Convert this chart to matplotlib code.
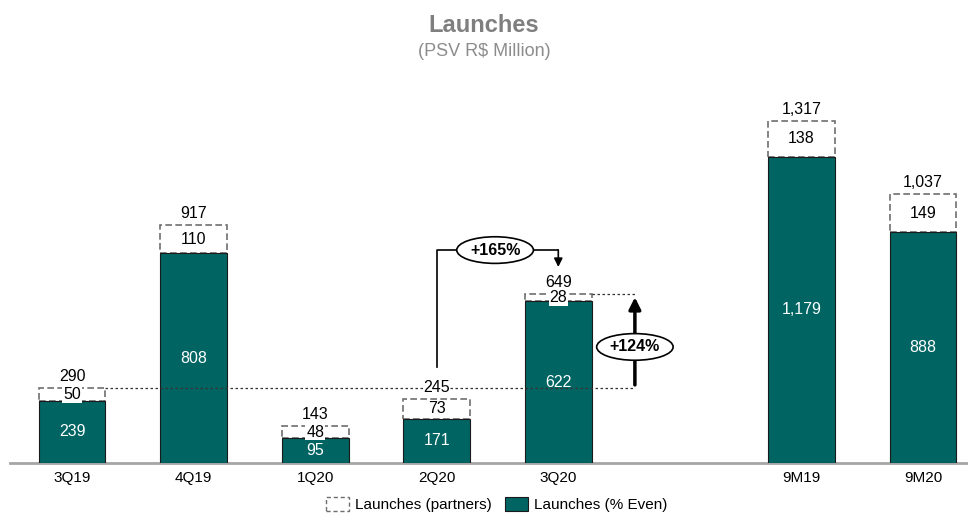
import matplotlib.pyplot as plt
import matplotlib.patches as patches
import numpy as np

plt.rcParams['font.family'] = ['Liberation Sans', 'DejaVu Sans']

categories = ['3Q19', '4Q19', '1Q20', '2Q20', '3Q20', '9M19', '9M20']
positions = [0, 1, 2, 3, 4, 6, 7]
even_values = [239, 808, 95, 171, 622, 1179, 888]
partner_values = [50, 110, 48, 73, 28, 138, 149]
totals = [290, 917, 143, 245, 649, 1317, 1037]

teal = '#006462'
gray = '#6e6e6e'
bar_w = 0.55

fig = plt.figure(figsize=(9.68, 5.21), dpi=100)
ax = fig.add_axes([10 / 968, 58 / 521, 958 / 968, 383 / 521])

x = np.array(positions, dtype=float)
ev = np.array(even_values, dtype=float)
tot = np.array(totals, dtype=float)

# stacked bars: % Even at the bottom, partners box on top up to total
ax.bar(x, ev, width=bar_w, color=teal, edgecolor='#1a1a1a', linewidth=0.8, zorder=3)
ax.bar(x, tot - ev, bottom=ev, width=bar_w, facecolor='white', edgecolor=gray,
       linewidth=1.2, linestyle=(0, (4, 2)), zorder=2)

for xi, e, p, t in zip(x, even_values, partner_values, totals):
    ax.text(xi, e / 2, f'{e:,}', color='white', fontsize=11.5, ha='center', va='center', zorder=5)
    ax.text(xi, (e + t) / 2, f'{p:,}', color='black', fontsize=11.5, ha='center', va='center', zorder=8,
            bbox=dict(boxstyle='square,pad=0.05', fc='white', ec='none'))
    ax.annotate(f'{t:,}', xy=(xi, t), xytext=(0, 3), textcoords='offset points',
                ha='center', va='bottom', fontsize=11.5, zorder=6,
                bbox=dict(boxstyle='square,pad=0.02', fc='white', ec='none'))

# reference dotted lines and +124% arrow
arr_x = 4.63
ax.plot([bar_w / 2, arr_x], [totals[0], totals[0]], color='#333333', lw=0.9, ls=(0, (2, 2)), zorder=4)
ax.plot([4 + bar_w / 2, arr_x], [totals[4], totals[4]], color='#333333', lw=0.9, ls=(0, (2, 2)), zorder=4)
ax.annotate('', xy=(arr_x, totals[4]), xytext=(arr_x, totals[0]),
            arrowprops=dict(arrowstyle='-|>,head_width=0.35,head_length=0.7', color='black', lw=2.5),
            zorder=6)
ax.text(arr_x, 447, '+124%', fontsize=11.5, fontweight='bold', ha='center', va='center', zorder=7,
        bbox=dict(boxstyle='ellipse,pad=0.12', fc='white', ec='black', lw=1.2))

# +165% connector from 2Q20 to 3Q20
conn_y = 820
ax.plot([3, 3, 4], [370, conn_y, conn_y], color='black', lw=1.2, zorder=4)
ax.annotate('', xy=(4, 755), xytext=(4, conn_y),
            arrowprops=dict(arrowstyle='-|>,head_width=0.25,head_length=0.5', color='black', lw=1.2,
                            shrinkA=0, shrinkB=0), zorder=5)
ax.text(3.48, conn_y, '+165%', fontsize=11.5, fontweight='bold', ha='center', va='center', zorder=7,
        bbox=dict(boxstyle='ellipse,pad=0.12', fc='white', ec='black', lw=1.2))

ax.set_xlim(-0.51, 7.37)
ax.set_ylim(0, 1475)
ax.set_xticks(x)
ax.set_xticklabels(categories, fontsize=11)
ax.tick_params(axis='x', length=0, pad=6)
ax.set_yticks([])
for s in ['left', 'right', 'top']:
    ax.spines[s].set_visible(False)
ax.spines['bottom'].set_color('#a6a6a6')
ax.spines['bottom'].set_linewidth(2)

fig.text(0.5, 1 - 25 / 521, 'Launches', fontsize=17, fontweight='bold',
         color='#7f7f7f', ha='center', va='center')
fig.text(0.5, 1 - 52 / 521, '(PSV R$ Million)', fontsize=13, color='#8c8c8c', ha='center', va='center')

handles = [patches.Patch(facecolor='white', edgecolor=gray, linestyle=(0, (3, 2)), linewidth=1.0,
                         label='Launches (partners)'),
           patches.Patch(facecolor=teal, edgecolor='#1a1a1a', linewidth=0.8, label='Launches (% Even)')]
fig.legend(handles=handles, loc='lower center', bbox_to_anchor=(0.513, -0.01), ncol=2, frameon=False,
           fontsize=11, handlelength=1.5, handleheight=1.0, columnspacing=0.9, handletextpad=0.4)

plt.savefig('out.png', dpi=100)
plt.close()
